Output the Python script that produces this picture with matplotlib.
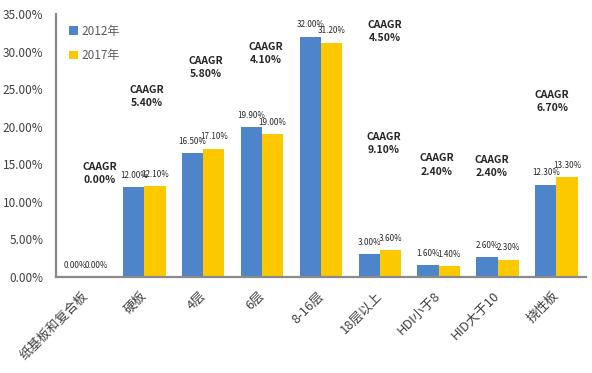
import matplotlib
matplotlib.use("Agg")
import matplotlib.pyplot as plt
import numpy as np

plt.rcParams['font.family'] = ['Noto Sans CJK SC', 'DejaVu Sans']

categories = ['纸基板和复合板', '硬板', '4层', '6层', '8-16层', '18层以上', 'HDI小于8', 'HID大于10', '挠性板']
share_2012 = [0.0, 12.0, 16.5, 19.9, 32.0, 3.0, 1.6, 2.6, 12.3]
share_2017 = [0.0, 12.1, 17.1, 19.0, 31.2, 3.6, 1.4, 2.3, 13.3]

# CAAGR notes: (text, x in category units, y in %)
caagr_labels = ['0.00%', '5.40%', '5.80%', '4.10%', '4.50%', '9.10%', '2.40%', '2.40%', '6.70%']
caagr_x = [0.24, 1.05, 2.04, 3.06, 5.09, 5.07, 5.97, 6.90, 7.93]
caagr_y = [13.8, 24.0, 27.9, 29.7, 32.7, 17.8, 14.9, 14.7, 23.4]

blue = '#4E84CA'
yellow = '#FCC900'
axis_gray = '#8A8A8A'

fig = plt.figure(figsize=(5.92, 3.73), dpi=100)
ax = fig.add_axes([0.0946, 0.2574, 0.895, 0.705])

x = np.arange(len(categories))
w = 0.36
b1 = ax.bar(x - w / 2, share_2012, w, color=blue, label='2012年')
b2 = ax.bar(x + w / 2, share_2017, w, color=yellow, label='2017年')

for bars, vals in ((b1, share_2012), (b2, share_2017)):
    for rect, v in zip(bars, vals):
        ax.annotate(f'{v:.2f}%', (rect.get_x() + rect.get_width() / 2, v),
                    xytext=(0, 8.5), textcoords='offset points',
                    ha='center', va='center', fontsize=5.8, color='#262626')

for lab, cx, cy in zip(caagr_labels, caagr_x, caagr_y):
    ax.text(cx, cy, 'CAAGR\n' + lab, ha='center', va='center', fontsize=7.5,
            fontweight='bold', color='#262626', linespacing=1.4)

ax.set_xlim(-0.5, len(categories) - 0.5)
ax.set_ylim(0, 35)
ax.set_yticks(np.arange(0, 36, 5))
ax.set_yticklabels([f'{t:.2f}%' for t in np.arange(0, 36, 5)])
ax.set_xticks(x)
ax.set_xticklabels(categories, rotation=45, ha='right', va='center', rotation_mode='anchor')

ax.tick_params(axis='both', length=0, labelsize=8.5, colors='#404040')
ax.tick_params(axis='x', pad=12, labelsize=9.3)
ax.tick_params(axis='y', pad=9)

for s in ('top', 'right'):
    ax.spines[s].set_visible(False)
for s in ('left', 'bottom'):
    ax.spines[s].set_color(axis_gray)
    ax.spines[s].set_linewidth(1.6)

leg = ax.legend(loc='upper left', bbox_to_anchor=(0.005, 1.0), frameon=False,
                fontsize=8.5, handlelength=0.7, handleheight=0.7, handletextpad=0.3,
                labelspacing=1.0)
for t in leg.get_texts():
    t.set_color('#595959')

fig.savefig('out.png', dpi=100)
